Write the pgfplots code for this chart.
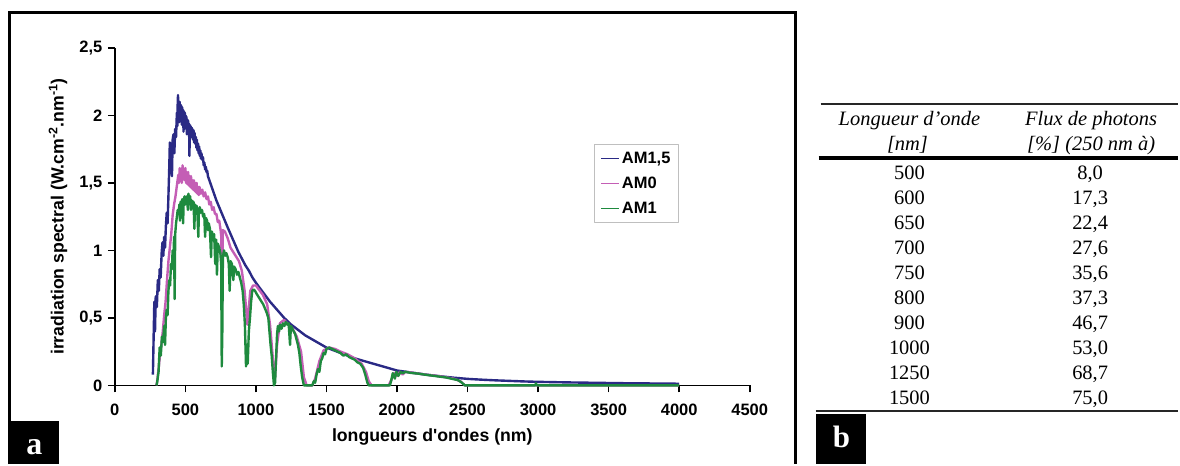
\documentclass[border=0pt]{standalone}
\usepackage{pgfplots}
\pgfplotsset{compat=1.18}
\usepackage{fontspec}
\setmainfont{Liberation Serif}
\newfontfamily\arial{Liberation Sans}
\definecolor{cnavy}{HTML}{2A2A85}
\definecolor{cmag}{HTML}{C45EB5}
\definecolor{cgreen}{HTML}{1E8A3E}
\begin{document}
\begin{tikzpicture}[x=1pt,y=1pt]
\path (0,0) rectangle (1180,465);
% frame of panel a
\draw[line width=3pt] (9.5,0) -- (9.5,452.5) -- (797,452.5) -- (797,0);
\begin{axis}[
  at={(115pt,79pt)}, anchor=south west,
  scale only axis, width=636pt, height=338pt,
  xmin=0, xmax=4500, ymin=0, ymax=2.5,
  clip=false,
  axis lines=left,
  axis line style={-, line width=1.6pt, black},
  xtick={0,500,1000,1500,2000,2500,3000,3500,4000,4500},
  ytick={0,0.5,1,1.5,2,2.5},
  tick align=outside, major tick length=7pt,
  every tick/.style={line width=1.6pt, black},
  /pgf/number format/use comma,
  /pgf/number format/1000 sep={},
  /pgf/number format/assume math mode=true,
  tick label style={font=\arial\bfseries\fontsize{16.5}{19}\selectfont, black},
  xticklabel style={yshift=-8pt},
  yticklabel style={xshift=-2pt},
  xlabel={longueurs d'ondes (nm)},
  ylabel={irradiation spectral (W.cm\textsuperscript{-2}.nm\textsuperscript{-1})},
  label style={font=\arial\bfseries\fontsize{17.7}{20}\selectfont},
  xlabel style={at={(axis description cs:0.5,-0.152)}, anchor=center},
  ylabel style={at={(axis description cs:-0.0896,0.5)}, anchor=center},
  legend style={at={(axis description cs:0.755,0.716)}, anchor=north west,
    draw=black!25, line width=0.8pt, font=\arial\bfseries\fontsize{16.5}{19}\selectfont,
    row sep=8pt, inner xsep=6pt, inner ysep=6pt},
  legend cell align=left,
  legend image code/.code={\draw[#1, line width=1.4pt] (0pt,0pt) -- (18pt,0pt);},
  line join=round,
]
\addplot[cnavy, line width=2.4pt] coordinates {
(270,0.08) (275,0.35) (280,0.62) (285,0.40) (290,0.66) (298,0.58) (305,0.78)
(312,0.70) (318,0.86) (325,0.80) (332,0.98) (338,1.06) (344,0.96) (350,1.10)
(356,1.02) (362,1.18) (368,1.28) (374,1.20) (380,1.40) (386,1.62) (390,1.80)
(395,1.70) (400,1.78) (405,1.55) (410,1.82) (416,1.86) (422,1.72) (428,1.90)
(434,1.84) (440,2.02) (443,1.92) (446,2.10) (448,2.15) (451,2.00) (454,2.08)
(457,1.95) (460,2.10) (463,1.96) (466,2.08) (469,1.98) (472,2.07) (475,1.93)
(478,2.06) (481,1.97) (484,2.04) (487,1.88) (490,2.03) (493,1.95) (496,2.02)
(499,1.92) (502,2.00) (505,1.90) (508,1.99) (511,1.86) (514,1.97) (517,1.89)
(520,1.96) (523,1.88) (526,1.94) (529,1.70) (532,1.93) (535,1.86) (538,1.92)
(541,1.84) (544,1.91) (547,1.85) (550,1.90) (554,1.82) (558,1.89) (562,1.80)
(566,1.87) (570,1.79) (574,1.84) (578,1.76) (582,1.82) (586,1.74) (590,1.79)
(594,1.72) (598,1.77) (602,1.70) (606,1.74) (610,1.68) (614,1.72) (620,1.67)
(625,1.69) (630,1.63) (635,1.65) (640,1.60) (645,1.62) (650,1.58) (655,1.59)
(660,1.55) (670,1.52) (680,1.49) (690,1.46) (700,1.43) (720,1.37) (740,1.32)
(760,1.27) (780,1.22) (800,1.17) (825,1.11) (850,1.05) (875,0.99) (900,0.94)
(925,0.89) (950,0.85) (975,0.80) (1000,0.76) (1050,0.69) (1100,0.62) (1150,0.56)
(1200,0.50) (1250,0.45) (1300,0.41) (1350,0.37) (1400,0.34) (1450,0.31)
(1500,0.28) (1600,0.24) (1700,0.20) (1800,0.17) (1900,0.14) (2000,0.11)
(2100,0.095) (2200,0.08) (2300,0.068) (2400,0.057) (2500,0.048) (2600,0.042)
(2700,0.037) (2800,0.033) (2900,0.029) (3000,0.026) (3200,0.022) (3400,0.019)
(3600,0.016) (3800,0.014) (4000,0.012)
};
\addlegendentry{AM1,5}
\addplot[cmag, line width=2.4pt] coordinates {
(295,0) (300,0.03) (310,0.12) (320,0.22) (330,0.30) (340,0.40) (350,0.52)
(360,0.62) (370,0.78) (380,0.92) (390,1.02) (400,1.12) (410,1.26) (420,1.34)
(430,1.40) (440,1.48) (450,1.56) (455,1.50) (460,1.61) (465,1.52) (470,1.60)
(475,1.50) (480,1.63) (485,1.53) (490,1.60) (495,1.52) (500,1.61) (505,1.50)
(510,1.58) (515,1.49) (520,1.58) (525,1.48) (530,1.55) (535,1.47) (540,1.55)
(545,1.46) (550,1.52) (555,1.45) (560,1.52) (565,1.44) (570,1.50) (575,1.43)
(580,1.50) (585,1.42) (590,1.47) (595,1.41) (600,1.47) (610,1.42) (620,1.45)
(630,1.40) (640,1.43) (650,1.38) (660,1.40) (670,1.34) (680,1.36) (690,1.30)
(700,1.32) (710,1.27) (720,1.27) (730,1.21) (740,1.22) (750,1.15) (755,1.10)
(760,0.60) (765,1.15)
(780,1.14) (800,1.09) (820,1.02) (850,0.97) (880,0.92) (900,0.85) (920,0.70)
(940,0.45) (960,0.70) (980,0.74) (1000,0.74) (1050,0.67) (1080,0.60) (1100,0.45)
(1120,0.20) (1135,0.05) (1150,0.30) (1170,0.46) (1200,0.485) (1230,0.45)
(1260,0.42) (1290,0.36) (1320,0.25) (1340,0.06) (1360,0) (1400,0) (1420,0.05)
(1450,0.18) (1480,0.26) (1520,0.28) (1560,0.27) (1600,0.25) (1650,0.23)
(1700,0.20) (1750,0.16) (1780,0.10) (1800,0.03) (1820,0) (1940,0) (1960,0.04)
(1980,0.09) (2000,0.07) (2020,0.10) (2040,0.08) (2060,0.10) (2100,0.095)
(2200,0.08) (2300,0.068) (2400,0.05) (2450,0.03) (2480,0) (4000,0)
};
\addlegendentry{AM0}
\addplot[cgreen, line width=2.4pt] coordinates {
(295,0) (300,0.02) (310,0.10) (318,0.28) (326,0.22) (334,0.36) (342,0.32)
(350,0.44) (356,0.30) (362,0.50) (368,0.56) (374,0.52) (380,0.70) (386,0.78)
(392,0.74) (398,0.90) (404,0.86) (410,1.00) (416,0.92) (420,1.10) (424,0.64)
(428,1.12) (434,1.20) (440,1.25) (446,1.30) (452,1.28) (458,1.34) (462,1.22)
(466,1.36) (472,1.32) (478,1.38) (484,1.20) (488,1.36) (494,1.40) (500,1.34)
(506,1.40) (512,1.38) (518,1.30) (522,1.42) (528,1.36) (534,1.40) (540,1.30)
(546,1.37) (552,1.33) (558,1.36) (564,1.16) (568,1.34) (574,1.30) (580,1.33)
(586,1.26) (592,1.10) (596,1.30) (602,1.32) (610,1.28) (618,1.30) (626,1.25)
(634,1.27) (640,1.10) (646,1.24) (654,1.22) (660,1.15) (666,1.20) (674,1.16)
(682,0.95) (688,1.14) (696,1.10) (704,1.12) (712,0.90) (718,1.08) (724,0.82)
(730,1.05) (740,1.02) (748,0.98) (754,0.90) (758,0.14) (762,0.40) (766,0.95)
(774,1.00) (782,0.96) (790,0.98) (800,0.95) (808,0.90) (814,0.70) (820,0.92)
(830,0.90) (840,0.78) (846,0.88) (856,0.86) (866,0.82) (876,0.84) (886,0.80)
(896,0.76) (906,0.70) (914,0.60) (922,0.45) (930,0.14) (936,0.30) (942,0.16)
(950,0.40) (958,0.50) (966,0.62) (974,0.70) (984,0.71) (994,0.70) (1004,0.68)
(1016,0.66) (1028,0.64) (1040,0.62) (1052,0.60) (1064,0.57) (1076,0.54)
(1088,0.50) (1096,0.40) (1104,0.30) (1112,0.22) (1120,0.10) (1128,0) (1136,0.02)
(1142,0.18) (1150,0.38) (1156,0.44) (1164,0.40) (1172,0.45) (1182,0.42)
(1192,0.46) (1202,0.44) (1212,0.47) (1222,0.45) (1232,0.46) (1242,0.30)
(1248,0.44) (1258,0.42) (1268,0.40) (1278,0.38) (1288,0.34) (1298,0.30)
(1308,0.24) (1318,0.14) (1328,0.06) (1340,0) (1400,0) (1410,0.03) (1420,0.02)
(1430,0.08) (1440,0.12) (1450,0.10) (1460,0.18) (1470,0.20) (1480,0.24)
(1490,0.23) (1500,0.27) (1520,0.28) (1540,0.27) (1560,0.26) (1580,0.25)
(1600,0.24) (1620,0.22) (1640,0.23) (1660,0.21) (1680,0.20) (1700,0.19)
(1720,0.17) (1740,0.16) (1760,0.13) (1775,0.08) (1790,0.02) (1800,0) (1950,0)
(1960,0.04) (1970,0.09) (1985,0.05) (1995,0.10) (2010,0.07) (2025,0.10)
(2040,0.09) (2060,0.10) (2100,0.092) (2150,0.087) (2200,0.079) (2250,0.072)
(2300,0.065) (2350,0.058) (2400,0.046) (2430,0.04) (2460,0.02) (2480,0)
(2980,0) (2985,0.015) (2990,0) (4000,0)
};
\addlegendentry{AM1}
\end{axis}
% label a
\fill[black] (10,0) rectangle (59,43);
\node[anchor=base, text=white, inner sep=0pt, font=\bfseries\fontsize{32}{36}\selectfont] at (34.5,10) {a};
% table b
\draw[line width=1.5pt, black!85] (822,360.7) -- (1180,360.7);
\draw[line width=4pt] (820,307) -- (1180,307);
\draw[line width=2pt, black!85] (817,53.3) -- (1180,53.3);
\begin{scope}[every node/.style={anchor=base, inner sep=0pt, font=\fontsize{20.5}{25}\selectfont}]
\node[font=\itshape\fontsize{20.5}{25}\selectfont] at (911,339) {Longueur d’onde};
\node[font=\itshape\fontsize{20.5}{25}\selectfont] at (909,314) {[nm]};
\node[font=\itshape\fontsize{20.5}{25}\selectfont] at (1093,339) {Flux de photons};
\node[font=\itshape\fontsize{20.5}{25}\selectfont] at (1093,314) {[\%] (250 nm à)};
\node at (911,285) {500};  \node at (1092,285) {8,0};
\node at (911,260) {600};  \node at (1092,260) {17,3};
\node at (911,235) {650};  \node at (1092,235) {22,4};
\node at (911,210) {700};  \node at (1092,210) {27,6};
\node at (911,185) {750};  \node at (1092,185) {35,6};
\node at (911,160) {800};  \node at (1092,160) {37,3};
\node at (911,135) {900};  \node at (1092,135) {46,7};
\node at (911,110) {1000}; \node at (1092,110) {53,0};
\node at (911,85) {1250};  \node at (1092,85) {68,7};
\node at (911,60) {1500};  \node at (1092,60) {75,0};
\end{scope}
\fill[black] (817,0) rectangle (867,50);
\node[anchor=base, text=white, inner sep=0pt, font=\bfseries\fontsize{31}{36}\selectfont] at (843,17) {b};
\end{tikzpicture}
\end{document}
